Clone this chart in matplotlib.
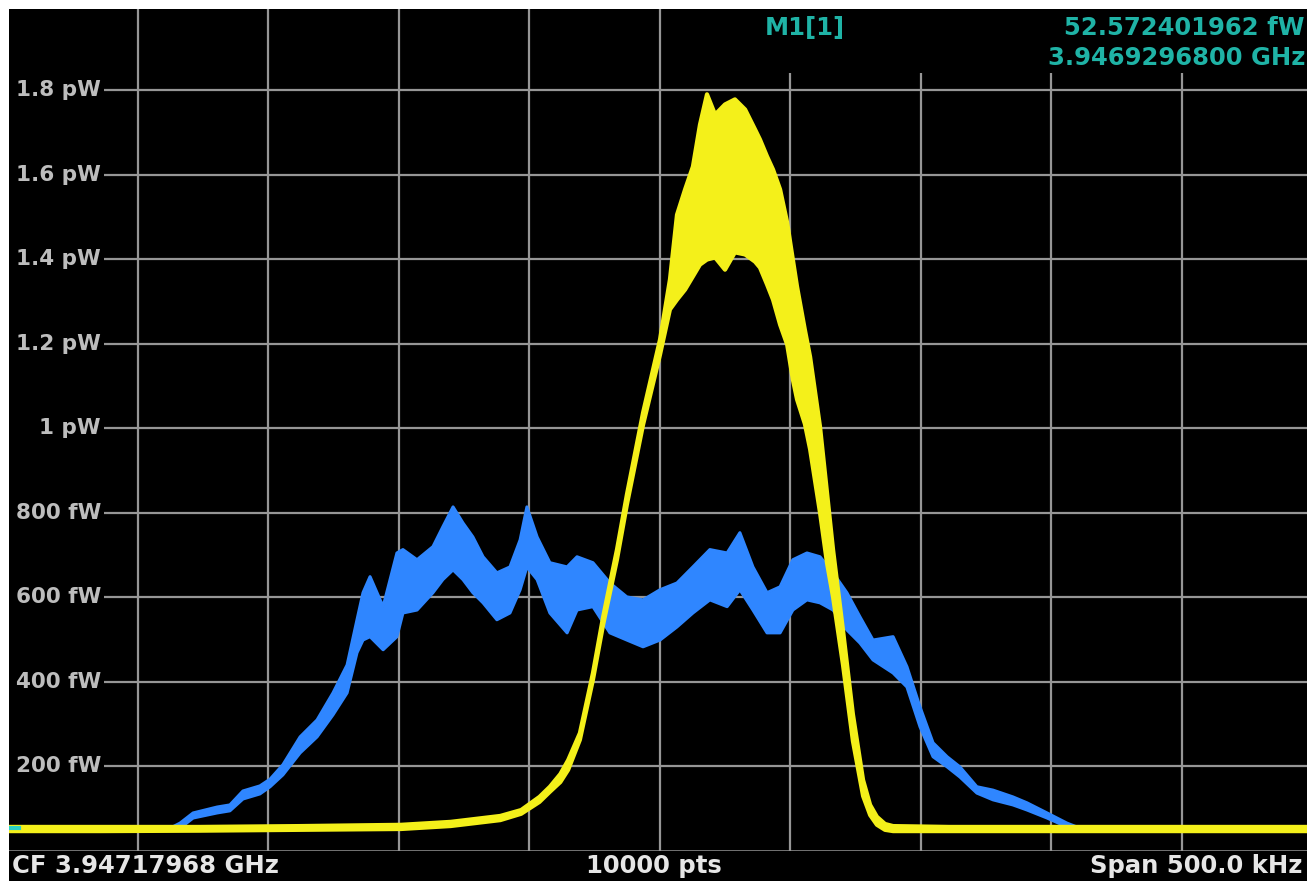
import numpy as np
import matplotlib
matplotlib.use('Agg')
import matplotlib.pyplot as plt
from matplotlib.patches import Rectangle

# frequency offset from CF (kHz) and power (fW)
cf_label = 'CF 3.94717968 GHz'
pts_label = '10000 pts'
span_label = 'Span 500.0 kHz'
marker_name = 'M1[1]'
marker_level = '52.572401962 fW'
marker_freq = '3.9469296800 GHz'

ytick_vals = [1800, 1600, 1400, 1200, 1000, 800, 600, 400, 200]
ytick_labels = ['1.8 pW', '1.6 pW', '1.4 pW', '1.2 pW', '1 pW',
                '800 fW', '600 fW', '400 fW', '200 fW']
xgrid_vals = [-200, -150, -100, -50, 0, 50, 100, 150, 200]

# trace 1 (yellow): upper / lower edge of the noisy band
yel_f = [-249.2, -214, -176, -138, -99, -80, -61, -53, -46, -42, -38, -35,
         -30.5, -25.5, -21.6, -16.3, -12.5, -6.3, 0.2, 4.0, 6.7, 9.8, 12.8,
         15.5, 18.2, 21.3, 25.1, 28.9, 32.8, 36.6, 38.5, 41.2, 43.5, 46.2,
         48.9, 51.1, 52.7, 55.7, 57.7, 61.5, 64.2, 66.5, 70.3, 74.1, 78.0,
         80.7, 83.3, 86.4, 89.5, 111, 169, 250]
yel_hi = [57, 57, 57, 59, 62, 69, 83, 97, 128, 152, 182, 215,
          279, 421, 554, 713, 843, 1037, 1210, 1352, 1505, 1565, 1619,
          1718, 1790, 1742, 1766, 1778, 1754, 1707, 1683, 1643, 1612, 1565,
          1487, 1399, 1335, 1233, 1169, 1004, 847, 713, 523, 324, 168,
          109, 81, 64, 59, 57, 57, 57]
yel_lo = [47, 47, 48, 50, 52, 59, 73, 88, 116, 140, 163, 192,
          263, 405, 535, 689, 819, 1008, 1174, 1281, 1304, 1328, 1359,
          1387, 1399, 1404, 1375, 1416, 1411, 1394, 1380, 1340, 1304, 1245,
          1198, 1115, 1068, 1010, 950, 800, 680, 600, 440, 260, 130,
          85, 62, 50, 47, 47, 47, 47]

# trace 2 (blue)
blu_f = [-187.5, -183.7, -178.7, -169.5, -164.6, -159.6, -153.1, -149.2,
         -144.3, -137.7, -131.2, -125.1, -119.7, -115.9, -113.6, -110.9,
         -105.9, -100.6, -98.3, -92.9, -86.8, -83.0, -79.1, -75.3, -71.5,
         -67.6, -62.3, -57.3, -53.4, -50.8, -46.9, -42.0, -35.4, -31.6,
         -25.5, -19.0, -12.5, -6.3, 0.2, 6.7, 12.8, 19.3, 25.9, 30.8, 35.8,
         41.2, 46.2, 51.1, 56.5, 61.5, 66.5, 71.8, 76.8, 81.8, 89.5, 94.8,
         99.8, 104.8, 110.2, 115.1, 121.6, 127.8, 135.4, 140.8, 148.5,
         156.1, 161.1]
blu_hi = [54, 66, 90, 104, 109, 142, 154, 170,
          204, 270, 310, 374, 440, 547, 611, 649,
          578, 705, 713, 689, 720, 767, 814, 776, 743,
          696, 658, 672, 736, 814, 743, 682, 672, 696,
          682, 634, 601, 594, 618, 634, 672, 713, 705, 753, 672,
          611, 625, 689, 705, 696, 658, 611, 554, 499, 507, 436,
          341, 256, 223, 199, 152, 144, 128, 114, 90,
          66, 54]
blu_lo = [50, 54, 78, 90, 95, 123, 135, 152,
          180, 232, 270, 322, 374, 469, 499, 507,
          476, 507, 563, 570, 611, 642, 665, 642, 611,
          587, 547, 563, 618, 672, 642, 563, 516, 570,
          578, 516, 499, 483, 499, 530, 563, 594, 578, 618, 570,
          516, 516, 570, 594, 587, 570, 523, 492, 452, 421, 388,
          294, 223, 199, 175, 137, 121, 109, 97, 78,
          57, 50]

W, H = 1307, 881
fig = plt.figure(figsize=(W / 100, H / 100), dpi=100)
fig.patch.set_facecolor('black')

# axes mapped so -250..250 kHz spans 10 grid columns, 0..2 pW spans the height
ax = fig.add_axes([7 / W, (H - 851) / H, 1305 / W, 845.5 / H])
ax.set_facecolor('black')
ax.set_xlim(-250, 250)
ax.set_ylim(0, 2000)
ax.axis('off')

grid_c = '#969696'
for v in ytick_vals:
    ax.plot([-213, 250], [v, v], color=grid_c, lw=1.6, zorder=1, solid_capstyle='butt')
ax.plot([-250, 250], [0, 0], color=grid_c, lw=1.8, zorder=1)
for v in xgrid_vals:
    top = 1840 if v >= 50 else 1995
    ax.plot([v, v], [0, top], color=grid_c, lw=1.6, zorder=1, solid_capstyle='butt')

for v, lab in zip(ytick_vals, ytick_labels):
    ax.text(-214, v, lab, ha='right', va='center', color='#bdbdbd',
            fontsize=15.5, fontweight='bold', zorder=5)

blue = '#2f86ff'
ax.fill_between(blu_f, blu_lo, blu_hi, color=blue, lw=0, zorder=2)
ax.plot(blu_f, blu_hi, color=blue, lw=2.2, zorder=2)
ax.plot(blu_f, blu_lo, color=blue, lw=2.2, zorder=2)

yellow = '#f4f01a'
ax.fill_between(yel_f, yel_lo, yel_hi, color=yellow, lw=0, zorder=3)
ax.plot(yel_f, yel_hi, color=yellow, lw=3, zorder=3)
ax.plot(yel_f, yel_lo, color=yellow, lw=3, zorder=3)

# left-edge reference marker
ax.plot([-249.2, -245.5], [55, 55], color='#2bd1c4', lw=3, zorder=4)

def px(x, y):
    return x / W, 1 - y / H

txt_c = '#e6e6e6'
fig.text(*px(12, 866), cf_label, ha='left', va='center', color=txt_c,
         fontsize=17.5, fontweight='bold')
fig.text(*px(654, 866), pts_label, ha='center', va='center', color=txt_c,
         fontsize=17.5, fontweight='bold')
fig.text(*px(1302, 866), span_label, ha='right', va='center', color=txt_c,
         fontsize=17.5, fontweight='bold')

teal = '#1fb3a6'
fig.text(*px(805, 28), marker_name, ha='center', va='center', color=teal,
         fontsize=17.5, fontweight='bold')
fig.text(*px(1305, 28), marker_level, ha='right', va='center', color=teal,
         fontsize=17.5, fontweight='bold')
fig.text(*px(1305, 58), marker_freq, ha='right', va='center', color=teal,
         fontsize=17.5, fontweight='bold')

# white border at top and left of the screen capture
fig.patches.append(Rectangle((0, (H - 9) / H), 1, 9 / H, transform=fig.transFigure,
                             facecolor='white', edgecolor='none', zorder=10))
fig.patches.append(Rectangle((0, 0), 9 / W, 1, transform=fig.transFigure,
                             facecolor='white', edgecolor='none', zorder=10))

fig.savefig('out.png', dpi=100, facecolor=fig.get_facecolor())
